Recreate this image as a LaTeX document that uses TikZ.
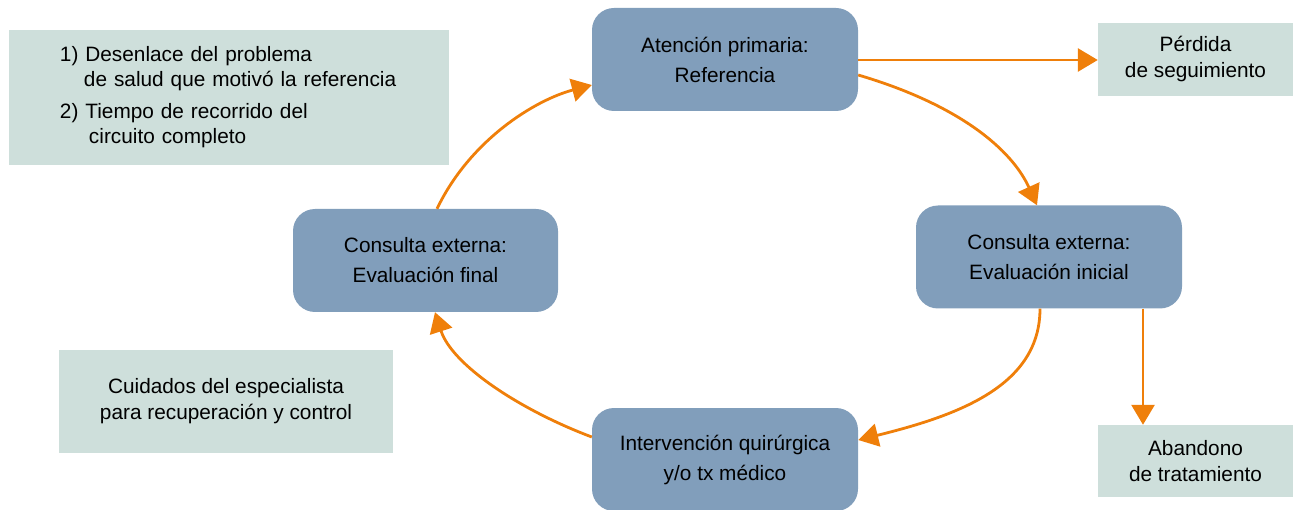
\documentclass[tikz,border=0pt]{standalone}
\usepackage{fontspec}
\setmainfont{Liberation Sans}
\usetikzlibrary{arrows.meta}
\definecolor{bluebox}{HTML}{819EBB}
\definecolor{greenbox}{HTML}{CEDFDB}
\definecolor{orangearr}{HTML}{EF7F0A}
\begin{document}
\begin{tikzpicture}[x=1pt,y=-1pt,
  bluenode/.style={fill=bluebox, rounded corners=22pt, minimum width=266pt, minimum height=103pt, align=center, inner sep=0pt, font=\fontsize{20.8}{30}\selectfont},
  greennode/.style={fill=greenbox, align=center, inner sep=0pt, font=\fontsize{20.8}{26}\selectfont},
  arr/.style={draw=orangearr, line width=2.8pt, -{Triangle[length=20pt,width=23pt]}}
]
\useasboundingbox (0,0) rectangle (1295,510);
% top-left info box
\node[greennode, minimum width=440pt, minimum height=135pt, text width=440pt, align=left, font=\fontsize{20.8}{25}\selectfont] (info) at (229,97.5)
 {\hspace*{51pt}1) Desenlace del problema\\
  \hspace*{75pt}de salud que motivó la referencia\\[7pt]
  \hspace*{51pt}2) Tiempo de recorrido del\\
  \hspace*{80pt}circuito completo};
\node[greennode, minimum width=195pt, minimum height=73pt] (perdida) at (1195.5,59.5) {Pérdida\\de seguimiento};
\node[greennode, minimum width=195pt, minimum height=72pt] (abandono) at (1195.5,461) {Abandono\\de tratamiento};
\node[greennode, minimum width=334pt, minimum height=103pt] (cuidados) at (226,401.5) {Cuidados del especialista\\para recuperación y control};
% blue nodes
\node[bluenode] (ap) at (725,59.5) {Atención primaria:\\Referencia};
\node[bluenode] (ei) at (1049,257) {Consulta externa:\\Evaluación inicial};
\node[bluenode, minimum width=265pt] (ef) at (425.5,260.5) {Consulta externa:\\Evaluación final};
\node[bluenode] (iq) at (725,459.5) {Intervención quirúrgica\\y/o tx médico};
% connectors
\draw[arr] (ap.east |- 0,60) -- (perdida.west |- 0,60);
\draw[arr] (ap.east |- 0,75) .. controls (960,105) and (1012,150) .. (ei.north -| 1037,0);
\draw[arr] (ei.south -| 1040,0) .. controls (1040,385) and (960,415) .. (iq.east |- 0,440);
\draw[arr] (iq.west |- 0,437) .. controls (520,410) and (452,365) .. (ef.south -| 435,0);
\draw[arr] (ef.north -| 437,0) .. controls (470,140) and (535,100) .. (ap.west |- 0,85);
\draw[arr] (ei.south -| 1143,0) -- (abandono.north -| 1143,0);
\end{tikzpicture}
\end{document}
